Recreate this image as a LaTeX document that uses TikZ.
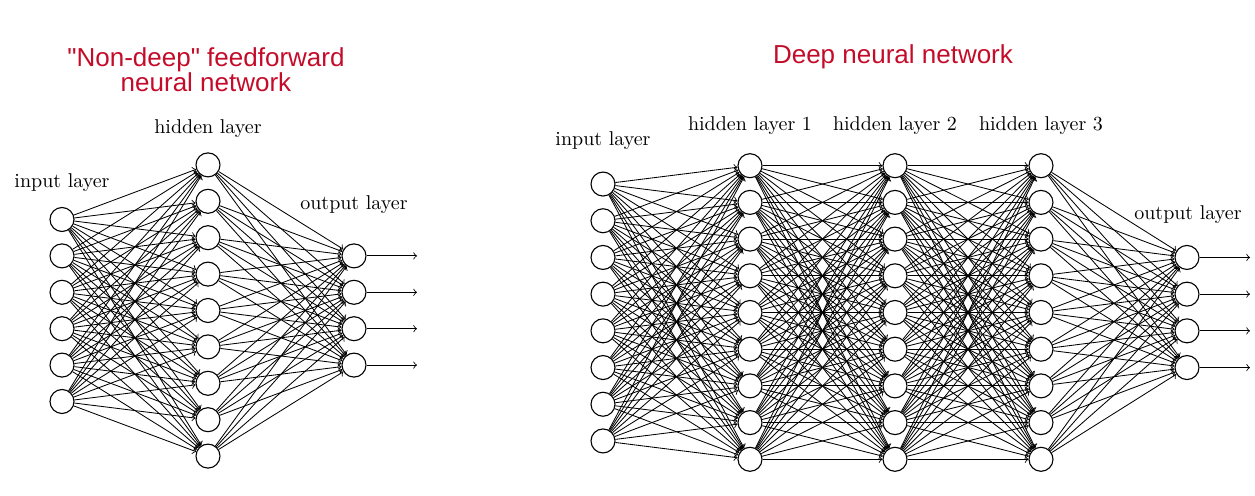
\documentclass[tikz,border=0pt]{standalone}
\usepackage{fontspec}
\newfontfamily\titlefont{Liberation Sans}
\definecolor{titlered}{RGB}{196,12,42}
\begin{document}
\begin{tikzpicture}[x=0.5pt,y=-0.5pt,
  neuron/.style={circle,draw,line width=0.55pt,minimum size=12pt,inner sep=0pt,fill=white},
  conn/.style={->,line width=0.42pt},
  lbl/.style={font=\normalsize,inner sep=0pt},
  ttl/.style={font=\titlefont\fontsize{13}{12.5}\selectfont,text=titlered,align=center,inner sep=0pt}
]
\useasboundingbox (0,0) rectangle (1255,496);
% ---------- left network ----------
\node[ttl] (LT) at (206,70) {"Non-deep" feedforward\\neural network};
\foreach \i in {1,...,6} \node[neuron] (LI\i) at (62, {310.5+36.4*(\i-3.5)}) {};
\foreach \i in {1,...,9} \node[neuron] (LH\i) at (208, {310.5+36.4*(\i-5)}) {};
\foreach \i in {1,...,4} \node[neuron] (LO\i) at (354, {310.5+36.4*(\i-2.5)}) {};
\foreach \i in {1,...,6} \foreach \j in {1,...,9} \draw[conn] (LI\i) -- (LH\j);
\foreach \i in {1,...,9} \foreach \j in {1,...,4} \draw[conn] (LH\i) -- (LO\j);
\foreach \j in {1,...,4} {
  \coordinate (LE\j) at (417, {310.5+36.4*(\j-2.5)});
  \draw[conn] (LO\j) -- (LE\j);
}
\node[lbl] (LIL) at (62,183) {input layer};
\node[lbl] (LHL) at (208,129) {hidden layer};
\node[lbl] (LOL) at (354,205) {output layer};
% ---------- right network ----------
\node[ttl] (RT) at (893,57) {Deep neural network};
\foreach \i in {1,...,8} \node[neuron] (RI\i) at (603, {312.5+36.7*(\i-4.5)}) {};
\foreach \i in {1,...,9} {
  \node[neuron] (RA\i) at (750, {312.5+36.7*(\i-5)}) {};
  \node[neuron] (RB\i) at (895, {312.5+36.7*(\i-5)}) {};
  \node[neuron] (RC\i) at (1041, {312.5+36.7*(\i-5)}) {};
}
\foreach \i in {1,...,4} \node[neuron] (RO\i) at (1187, {312.5+36.7*(\i-2.5)}) {};
\foreach \i in {1,...,8} \foreach \j in {1,...,9} \draw[conn] (RI\i) -- (RA\j);
\foreach \i in {1,...,9} \foreach \j in {1,...,9} {
  \draw[conn] (RA\i) -- (RB\j);
  \draw[conn] (RB\i) -- (RC\j);
}
\foreach \i in {1,...,9} \foreach \j in {1,...,4} \draw[conn] (RC\i) -- (RO\j);
\foreach \j in {1,...,4} {
  \coordinate (RE\j) at (1250, {312.5+36.7*(\j-2.5)});
  \draw[conn] (RO\j) -- (RE\j);
}
\node[lbl] (RIL) at (603,141) {input layer};
\node[lbl] (RAL) at (750,126) {hidden layer 1};
\node[lbl] (RBL) at (895,126) {hidden layer 2};
\node[lbl] (RCL) at (1041,126) {hidden layer 3};
\node[lbl] (ROL) at (1188,215) {output layer};
\end{tikzpicture}
\end{document}
